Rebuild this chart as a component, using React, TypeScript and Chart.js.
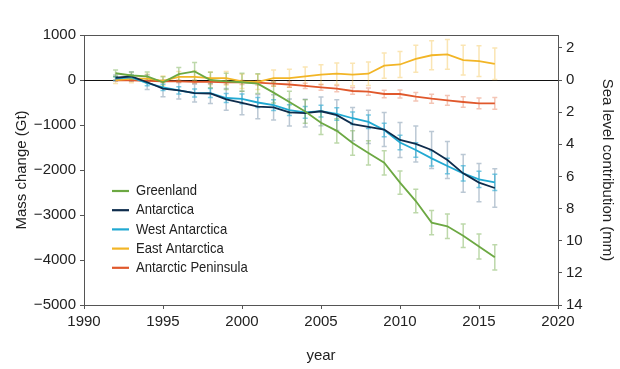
import React, { useEffect, useRef } from 'react';
import { Chart, registerables } from 'chart.js';
Chart.register(...registerables);

const years = [1992, 1993, 1994, 1995, 1996, 1997, 1998, 1999, 2000, 2001, 2002, 2003, 2004, 2005, 2006, 2007, 2008, 2009, 2010, 2011, 2012, 2013, 2014, 2015, 2016];

const greenland = [150, 100, 80, -50, 130, 190, 0, -30, -50, -80, -280, -490, -700, -950, -1130, -1400, -1620, -1840, -2280, -2690, -3170, -3250, -3460, -3700, -3940];
const greenlandErr = [70, 80, 100, 120, 150, 200, 170, 180, 200, 220, 230, 240, 260, 260, 270, 270, 270, 270, 260, 260, 270, 270, 260, 280, 280];

const antarctica = [50, 80, -50, -190, -230, -290, -300, -430, -510, -590, -610, -720, -735, -695, -780, -980, -1040, -1100, -1333, -1420, -1556, -1778, -2074, -2281, -2400];
const antarcticaErr = [60, 100, 160, 180, 190, 200, 220, 240, 260, 270, 280, 300, 310, 320, 340, 370, 370, 380, 390, 400, 410, 410, 420, 425, 430];

const westAntarctica = [30, 60, -70, -165, -230, -290, -290, -400, -420, -500, -560, -670, -720, -690, -755, -850, -930, -1110, -1390, -1556, -1741, -1911, -2074, -2207, -2274];
const westErr = [40, 50, 60, 70, 80, 90, 100, 100, 110, 110, 120, 120, 130, 130, 140, 140, 150, 150, 160, 160, 170, 170, 170, 180, 180];

const eastAntarctica = [0, 30, 30, -20, 70, 70, 40, 40, -30, -40, 40, 40, 80, 120, 140, 120, 140, 320, 345, 470, 550, 570, 440, 420, 360];
const eastErr = [80, 90, 100, 110, 120, 130, 140, 150, 160, 170, 180, 200, 210, 220, 240, 250, 260, 280, 290, 300, 320, 330, 330, 340, 350];

const peninsula = [-10, -10, -20, -30, -30, -40, -40, -50, -55, -60, -80, -100, -130, -163, -193, -244, -259, -311, -311, -370, -415, -452, -489, -519, -519];
const peninsulaErr = [10, 15, 20, 25, 30, 35, 40, 40, 45, 50, 55, 60, 60, 65, 70, 75, 80, 85, 90, 95, 100, 110, 115, 120, 130];

const xTicks = [1990, 1995, 2000, 2005, 2010, 2015, 2020];
const massTicks = [1000, 0, -1000, -2000, -3000, -4000, -5000];
const seaTicks = [-2, 0, 2, 4, 6, 8, 10, 12, 14];
const GT_PER_MM = 5000 / 14;

const FONT = "'Liberation Sans Narrow', 'Liberation Sans', Arial, sans-serif";

const series = [
  { label: 'Greenland', data: greenland, err: greenlandErr, color: '#6CA842', errColor: 'rgba(108,168,66,0.45)' },
  { label: 'Antarctica', data: antarctica, err: antarcticaErr, color: '#0E2C4C', errColor: 'rgba(120,145,170,0.5)' },
  { label: 'West Antarctica', data: westAntarctica, err: westErr, color: '#21A9D2', errColor: 'rgba(33,169,210,0.6)' },
  { label: 'East Antarctica', data: eastAntarctica, err: eastErr, color: '#F2B526', errColor: 'rgba(242,181,38,0.35)' },
  { label: 'Antarctic Peninsula', data: peninsula, err: peninsulaErr, color: '#E0582C', errColor: 'rgba(224,88,44,0.35)' },
];

const fmt = (v: number) => (v < 0 ? '\u2212' + Math.abs(v) : String(v));

export default function App() {
  const ref = useRef<HTMLCanvasElement>(null);
  useEffect(() => {
    document.body.style.margin = '0';
    const canvas = ref.current!;

    const errorBars = {
      id: 'errorBars',
      beforeDatasetsDraw(chart: any) {
        const { ctx, scales, chartArea } = chart;
        const x = scales.x, y = scales.y;
        ctx.save();
        ctx.strokeStyle = '#111';
        ctx.lineWidth = 1;
        const y0 = Math.round(y.getPixelForValue(0)) + 0.5;
        ctx.beginPath();
        ctx.moveTo(chartArea.left, y0);
        ctx.lineTo(chartArea.right, y0);
        ctx.stroke();
        const order = [3, 4, 1, 2, 0];
        order.forEach((si) => {
          const s = series[si];
          ctx.strokeStyle = s.errColor;
          ctx.lineWidth = 1.5;
          years.forEach((yr, i) => {
            const px = x.getPixelForValue(yr);
            const top = y.getPixelForValue(s.data[i] + s.err[i]);
            const bot = y.getPixelForValue(s.data[i] - s.err[i]);
            ctx.beginPath();
            ctx.moveTo(px, top);
            ctx.lineTo(px, bot);
            ctx.moveTo(px - 2.5, top);
            ctx.lineTo(px + 2.5, top);
            ctx.moveTo(px - 2.5, bot);
            ctx.lineTo(px + 2.5, bot);
            ctx.stroke();
          });
        });
        ctx.restore();
      },
      afterDraw(chart: any) {
        const { ctx, chartArea } = chart;
        ctx.save();
        ctx.strokeStyle = '#555';
        ctx.lineWidth = 1;
        ctx.beginPath();
        ctx.moveTo(chartArea.left, Math.round(chartArea.top) + 0.5);
        ctx.lineTo(chartArea.right, Math.round(chartArea.top) + 0.5);
        ctx.stroke();
        const lx = chartArea.left + 28;
        const ly = chartArea.top + 156;
        series.forEach((s, i) => {
          const yy = ly + i * 19.2;
          ctx.strokeStyle = s.color;
          ctx.lineWidth = 2.2;
          ctx.beginPath();
          ctx.moveTo(lx, yy);
          ctx.lineTo(lx + 17, yy);
          ctx.stroke();
          ctx.save();
          ctx.translate(lx + 24, yy);
          ctx.scale(0.87, 1);
          ctx.font = `15px ${FONT}`;
          ctx.textBaseline = 'middle';
          ctx.fillStyle = '#222';
          ctx.fillText(s.label, 0, 0);
          ctx.restore();
        });
        ctx.restore();
      },
    };

    const chart = new Chart(canvas, {
      type: 'line',
      data: {
        datasets: series.map((s) => ({
          label: s.label,
          data: years.map((yr, i) => ({ x: yr, y: s.data[i] })),
          borderColor: s.color,
          backgroundColor: s.color,
          borderWidth: 1.8,
          pointRadius: 0,
          tension: 0,
          yAxisID: 'y',
        })),
      },
      options: {
        animation: false,
        responsive: false,
        layout: { padding: { top: 35, left: 0, right: 0, bottom: 0 } },
        plugins: { legend: { display: false }, tooltip: { enabled: false } },
        scales: {
          x: {
            type: 'linear',
            min: 1990,
            max: 2020,
            afterBuildTicks: (sc: any) => { sc.ticks = xTicks.map((v) => ({ value: v })); },
            afterFit: (sc: any) => { sc.height = 64; },
            ticks: { callback: (v: any) => String(v), color: '#222', font: { family: FONT, size: 15 }, padding: 4, maxRotation: 0 },
            grid: { display: true, drawOnChartArea: false, drawTicks: true, tickLength: 4, color: '#555' },
            border: { display: true, color: '#555' },
            title: { display: true, text: 'year', color: '#222', font: { family: FONT, size: 15 }, padding: { top: 7 } },
          },
          y: {
            type: 'linear',
            position: 'left',
            min: -5000,
            max: 1000,
            afterBuildTicks: (sc: any) => { sc.ticks = massTicks.map((v) => ({ value: v })); },
            afterFit: (sc: any) => { sc.width = 84; },
            ticks: { callback: (v: any) => fmt(v), color: '#222', font: { family: FONT, size: 15 }, padding: 4 },
            grid: { display: true, drawOnChartArea: false, drawTicks: true, tickLength: 4, color: '#555' },
            border: { display: true, color: '#555' },
            title: { display: true, text: 'Mass change (Gt)', color: '#222', font: { family: FONT, size: 15 }, padding: { top: 13, bottom: 4 } },
          },
          y2: {
            type: 'linear',
            position: 'right',
            display: true,
            reverse: true,
            min: -1000 / GT_PER_MM,
            max: 5000 / GT_PER_MM,
            afterBuildTicks: (sc: any) => { sc.ticks = seaTicks.map((v) => ({ value: v })); },
            afterFit: (sc: any) => { sc.width = 62; },
            ticks: { callback: (v: any) => String(Math.abs(v)), color: '#222', font: { family: FONT, size: 15 }, padding: 4 },
            grid: { display: true, drawOnChartArea: false, drawTicks: true, tickLength: 4, color: '#555' },
            border: { display: true, color: '#555' },
            title: { display: true, text: 'Sea level contribution (mm)', color: '#222', font: { family: FONT, size: 15 }, padding: { top: 4, bottom: 4 } },
          },
        },
      },
      plugins: [errorBars],
    } as any);
    return () => chart.destroy();
  }, []);
  return (
    <div style={{ width: 620, height: 369 }}>
      <canvas ref={ref} width={620} height={369} />
    </div>
  );
}
